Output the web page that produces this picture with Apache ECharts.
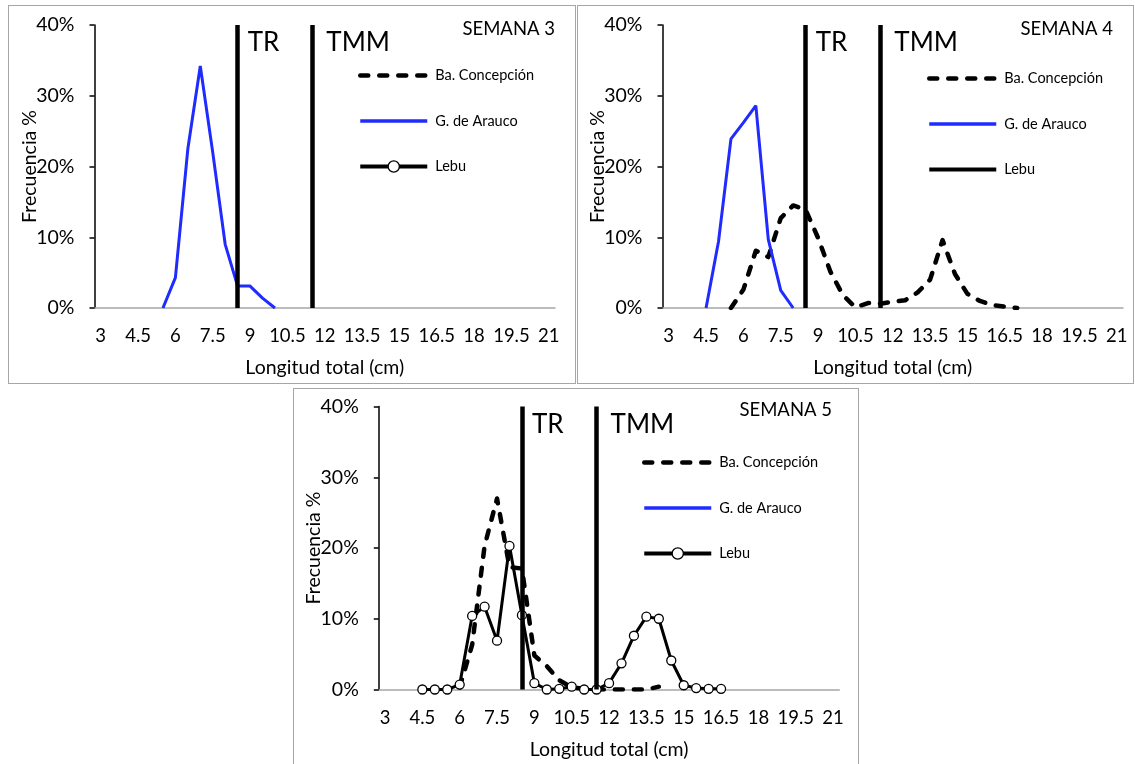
<!DOCTYPE html>
<html><head><meta charset="utf-8">
<script src="https://cdn.jsdelivr.net/npm/echarts@6/dist/echarts.min.js"></script>
<style>
html,body{margin:0;padding:0;background:#fff;width:1135px;height:764px;overflow:hidden;}
.frame{position:absolute;box-sizing:border-box;border:1px solid #a6a6a6;}
.chart{position:absolute;}
</style></head><body>
<div class="frame" style="left:8px;top:5px;width:568px;height:379px"></div>
<div class="frame" style="left:577px;top:5px;width:557px;height:379px"></div>
<div class="frame" style="left:293px;top:388px;width:566px;height:377px"></div>
<div id="c1" class="chart" style="left:9px;top:6px;width:566px;height:377px"></div>
<div id="c2" class="chart" style="left:578px;top:6px;width:555px;height:377px"></div>
<div id="c3" class="chart" style="left:294px;top:389px;width:564px;height:375px"></div>
<script>
// ---- categories (length classes, cm) ----
const lengthCategories = ['3','3.5','4','4.5','5','5.5','6','6.5','7','7.5','8','8.5','9','9.5','10','10.5','11','11.5','12','12.5','13','13.5','14','14.5','15','15.5','16','16.5','17','17.5','18','18.5','19','19.5','20','20.5','21'];
const seriesNames = ['Ba. Concepción','G. de Arauco','Lebu'];
const trLength = '8.5';
const tmmLength = '11.5';
const yMax = 40, yStep = 10;

// ---- Semana 3 ----
const w3AraucoLengths = ['5.5','6','6.5','7','7.5','8','8.5','9','9.5','10'];
const w3AraucoFreq    = [0, 4.3, 22.5, 34.2, 22.0, 9.0, 3.1, 3.1, 1.4, 0];

// ---- Semana 4 ----
const w4ConcepcionLengths = ['5.5','6','6.5','7','7.5','8','8.5','9','9.5','10','10.5','11','11.5','12','12.5','13','13.5','14','14.5','15','15.5','16','16.5','17'];
const w4ConcepcionFreq    = [0, 2.6, 8.1, 7.2, 12.7, 14.5, 13.9, 9.9, 5.1, 1.8, 0.1, 0.7, 0.6, 0.9, 1.1, 2.2, 4.0, 9.6, 4.8, 2.0, 1.0, 0.4, 0.2, 0];
const w4AraucoLengths = ['4.5','5','5.5','6','6.5','7','7.5','8'];
const w4AraucoFreq    = [0, 9.4, 23.9, 26.2, 28.6, 9.7, 2.5, 0];

// ---- Semana 5 ----
const w5ConcepcionLengths = ['6','6.5','7','7.5','8','8.5','9','9.5','10','10.5','11','11.5','12','12.5','13','13.5','14'];
const w5ConcepcionFreq    = [0.3, 6.3, 20.3, 27.0, 17.3, 17.1, 4.8, 3.3, 1.3, 0.3, 0.1, 0, 0, 0, 0, 0, 0.4];
const w5LebuLengths = ['4.5','5','5.5','6','6.5','7','7.5','8','8.5','9','9.5','10','10.5','11','11.5','12','12.5','13','13.5','14','14.5','15','15.5','16','16.5'];
const w5LebuFreq    = [0, 0, 0, 0.7, 10.4, 11.7, 6.9, 20.3, 10.5, 0.9, 0, 0.1, 0.4, 0, 0, 0.9, 3.7, 7.6, 10.3, 10.0, 4.1, 0.6, 0.2, 0.1, 0.1];

const FONT = 'Lato';
const BLUE = '#1f2bff';
const DASH = [8, 11];
function pairs(xs, ys){ return xs.map((x,i)=>[x, ys[i]]); }

function makeOption(cfg){
  const hidden = {color:'rgba(0,0,0,0)', borderColor:'rgba(0,0,0,0)', borderWidth:0, opacity:0};
  const series = [
    { name: seriesNames[0], type:'line', data: cfg.concepcion, symbol:'none', z:2,
      lineStyle:{color:'#000', width:4.5, type:DASH, cap:'round', join:'round'}, itemStyle:{color:'#000'} },
    { name: seriesNames[1], type:'line', data: cfg.arauco, symbol:'none', z:3,
      lineStyle:{color:BLUE, width:3}, itemStyle:{color:BLUE} },
    { name: seriesNames[2], type:'line', data: cfg.lebu, symbol:'circle', symbolSize:9, showSymbol:true, showAllSymbol:true, z:4,
      lineStyle:{color:'#000', width:3}, itemStyle:{color:'#fff', borderColor:'#000', borderWidth:1.3} },
    { name:'guides', type:'line', data:[], z:5,
      markLine:{ silent:true, symbol:'none', animation:false,
        label:{show:false},
        lineStyle:{color:'#000', width:4.5, type:'solid'},
        data:[{xAxis:trLength},{xAxis:tmmLength}] },
      markPoint:{ silent:true, symbol:'circle', symbolSize:0, animation:false,
        data:[
          {coord:[trLength, yMax], label:{show:true, formatter:'TR', position:[10,5], fontSize:26, color:'#000', fontFamily:FONT}},
          {coord:[tmmLength, yMax], label:{show:true, formatter:'TMM', position:[14,5], fontSize:26, color:'#000', fontFamily:FONT}}
        ] } }
  ];
  return {
    animation:false,
    title:{ text: cfg.title, right: cfg.titleRight, top: cfg.titleTop, padding:0,
      textStyle:{fontSize:18.5, fontWeight:'normal', color:'#000', fontFamily:FONT} },
    legend:{
      data:[
        {name:seriesNames[0], itemStyle:hidden, lineStyle:{width:4.5, type:DASH, cap:'round', color:'#000'}},
        {name:seriesNames[1], itemStyle:hidden, lineStyle:{width:3.5, color:BLUE}},
        cfg.lebuMarker
          ? {name:seriesNames[2], lineStyle:{width:4, color:'#000'}, itemStyle:{color:'#fff', borderColor:'#000', borderWidth:1.3}}
          : {name:seriesNames[2], itemStyle:hidden, lineStyle:{width:4, color:'#000'}}
      ],
      orient:'vertical', left: cfg.legendLeft, top: cfg.legendTop, padding:0,
      itemWidth:67, itemHeight:14, itemGap:30.5, selectedMode:false,
      textStyle:{fontSize:14.5, color:'#000', fontFamily:FONT, padding:[0,0,0,3]} },
    grid:{ left: cfg.gridLeft, top: cfg.gridTop, width:460.5, height:283, containLabel:false, outerBoundsMode:'none' },
    xAxis:{ type:'category', data: lengthCategories, boundaryGap:true,
      name:'Longitud total (cm)', nameLocation:'middle', nameGap:50, nameMoveOverlap:false,
      nameTextStyle:{fontSize:19.5, color:'#000', fontFamily:FONT},
      axisLine:{show:true, lineStyle:{color:'#a6a6a6', width:1.5}},
      axisTick:{show:false},
      axisLabel:{interval:2, fontSize:18.5, color:'#000', fontFamily:FONT, margin:19},
      splitLine:{show:false} },
    yAxis:{ type:'value', min:0, max:yMax, interval:yStep,
      name:'Frecuencia %', nameLocation:'middle', nameGap:55, nameRotate:90, nameMoveOverlap:false,
      nameTextStyle:{fontSize:19.5, color:'#000', fontFamily:FONT},
      axisLine:{show:true, lineStyle:{color:'#000', width:1.5}},
      axisTick:{show:true, length:5, lineStyle:{color:'#000', width:1.5}},
      axisLabel:{formatter:'{value}%', fontSize:19.5, color:'#000', fontFamily:FONT, margin:20},
      splitLine:{show:false} },
    series
  };
}

const c1 = echarts.init(document.getElementById('c1'), null, {renderer:'canvas'});
c1.setOption(makeOption({
  title:'SEMANA 3', titleRight:20, titleTop:14,
  legendLeft:349, legendTop:62, gridLeft:85.5, gridTop:19,
  concepcion:[], arauco:pairs(w3AraucoLengths, w3AraucoFreq), lebu:[], lebuMarker:true
}));
const c2 = echarts.init(document.getElementById('c2'), null, {renderer:'canvas'});
c2.setOption(makeOption({
  title:'SEMANA 4', titleRight:20, titleTop:14,
  legendLeft:349, legendTop:65, gridLeft:84.5, gridTop:19,
  concepcion:pairs(w4ConcepcionLengths, w4ConcepcionFreq), arauco:pairs(w4AraucoLengths, w4AraucoFreq), lebu:[], lebuMarker:false
}));
const c3 = echarts.init(document.getElementById('c3'), null, {renderer:'canvas'});
c3.setOption(makeOption({
  title:'SEMANA 5', titleRight:26, titleTop:12,
  legendLeft:348, legendTop:66, gridLeft:84.8, gridTop:17.5,
  concepcion:pairs(w5ConcepcionLengths, w5ConcepcionFreq), arauco:[], lebu:pairs(w5LebuLengths, w5LebuFreq), lebuMarker:true
}));
</script>
</body></html>
